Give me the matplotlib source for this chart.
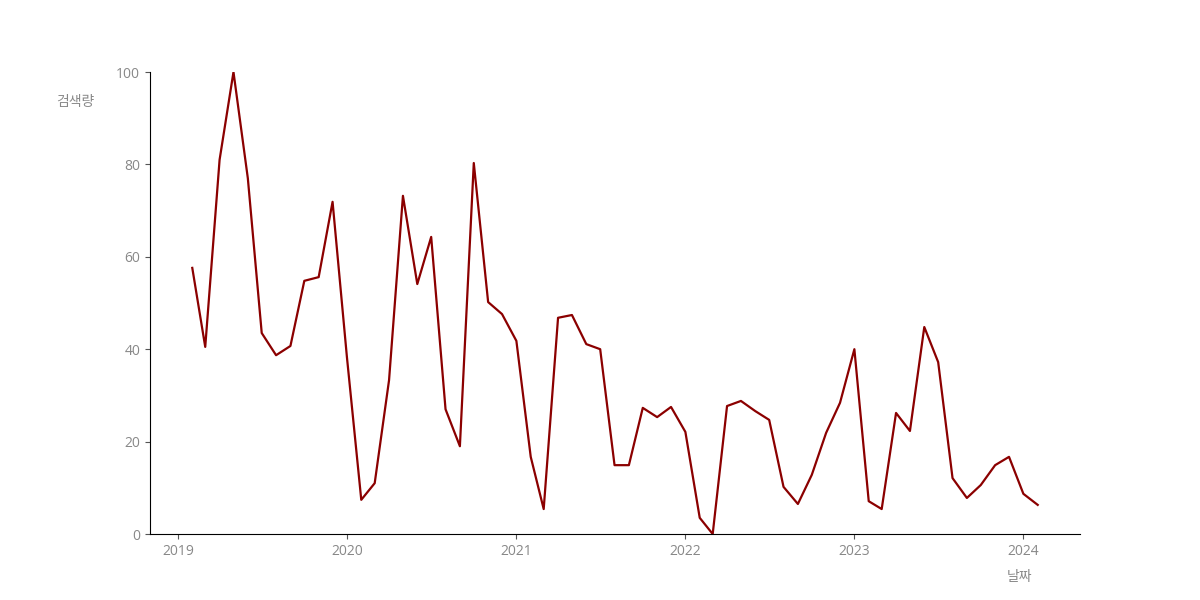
import matplotlib
matplotlib.use("Agg")
import matplotlib.pyplot as plt
import matplotlib.dates as mdates
import pandas as pd

plt.rcParams['font.family'] = ['Open Sans', 'Noto Sans CJK KR', 'DejaVu Sans']

dates = pd.date_range("2019-02-01", "2024-02-01", freq="MS")
values = [57.6, 40.5, 81.0, 100.0, 77.0, 43.5, 38.7, 40.7, 54.8, 55.6, 71.9,
          38.3, 7.4, 11.0, 33.3, 73.2, 54.1, 64.3, 27.0, 19.0, 80.3, 50.2, 47.6,
          41.8, 16.7, 5.4, 46.8, 47.4, 41.1, 40.0, 14.9, 14.9, 27.3, 25.3, 27.5,
          22.1, 3.5, 0.0, 27.7, 28.8, 26.6, 24.7, 10.2, 6.5, 12.8, 21.9, 28.4,
          40.0, 7.1, 5.4, 26.2, 22.3, 44.8, 37.2, 12.1, 7.8, 10.6, 14.9, 16.7,
          8.7, 6.3]
ylabel = "검색량"
xlabel = "날짜"

fig, ax = plt.subplots(figsize=(12, 6), dpi=100)
ax.plot(dates, values, color="#8B0000", linewidth=1.6)
ax.set_ylim(0, 100)
ax.set_yticks([0, 20, 40, 60, 80, 100])
ax.xaxis.set_major_locator(mdates.YearLocator())
ax.xaxis.set_major_formatter(mdates.DateFormatter("%Y"))

for s in ["top", "right"]:
    ax.spines[s].set_visible(False)
ax.tick_params(colors="#888888", labelsize=10)
ax.tick_params(axis="both", which="both", color="#555555")

ax.set_ylabel(ylabel, rotation=0, color="#888888", fontsize=10,
              family=['Noto Sans CJK KR', 'DejaVu Sans'])
ax.yaxis.set_label_coords(-0.08, 0.92)
ax.set_xlabel(xlabel, color="#888888", fontsize=10,
              family=['Noto Sans CJK KR', 'DejaVu Sans'])
ax.xaxis.set_label_coords(0.935, -0.077)

fig.savefig("out.png", dpi=100)
